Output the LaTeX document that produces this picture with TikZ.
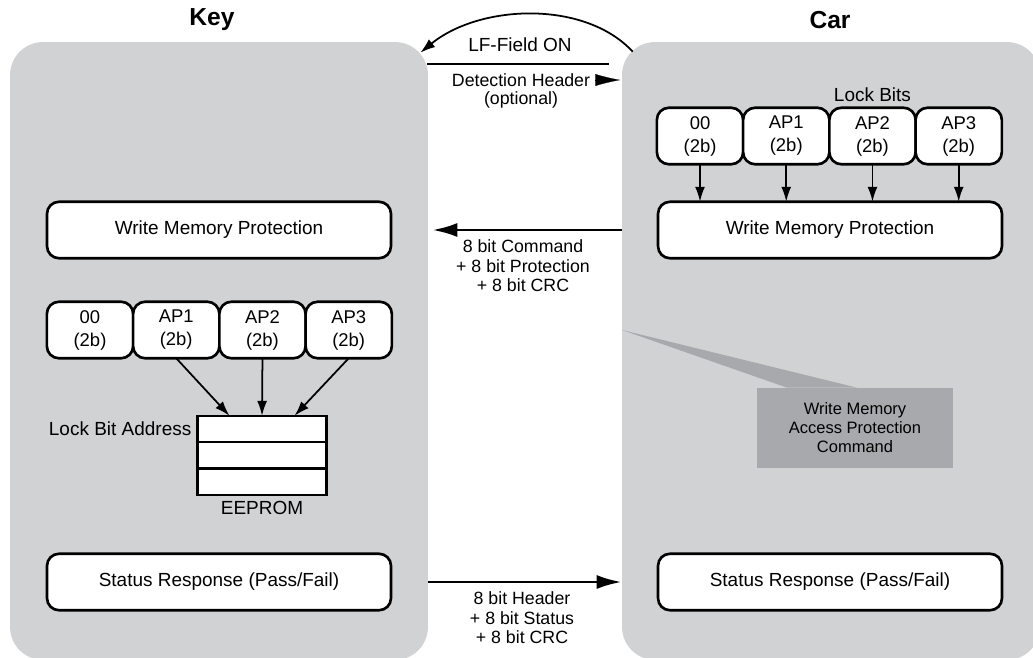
\documentclass[tikz,border=0pt]{standalone}
\usepackage{fontspec}
\setmainfont{Liberation Sans}
\usetikzlibrary{positioning,arrows.meta}
\definecolor{panelgray}{RGB}{209,210,212}
\definecolor{calloutgray}{RGB}{168,169,172}

\begin{document}
\begin{tikzpicture}[x=0.02cm,y=-0.02cm,node distance=0pt,font=\fontsize{10.8}{13}\selectfont]
			\tikzstyle{panel}=[fill=panelgray,rounded corners=0.66cm,minimum width=8.36cm,minimum height=12.36cm,inner sep=0pt]
			\tikzstyle{block}=[draw=black,line width=1.5pt,rounded corners=0.24cm,fill=white,minimum width=6.88cm,minimum height=1.13cm,outer sep=0pt]
			\tikzstyle{bits}=[block,minimum width=1.725cm,align=center,inner sep=1pt,font=\fontsize{10.5}{13.1}\selectfont]
			\tikzstyle{cell}=[draw=black,line width=1.5pt,fill=white,minimum width=2.58cm,minimum height=0.527cm,outer sep=0pt]
			\tikzstyle{callout}=[fill=calloutgray,minimum width=3.92cm,minimum height=1.6cm,align=center,font=\fontsize{9.4}{10.8}\selectfont]
			\tikzstyle{title}=[font=\fontsize{14}{16}\selectfont\bfseries]
			\tikzstyle{msgtext}=[align=center,font=\fontsize{10.1}{11.1}\selectfont]
			\tikzstyle{msg}=[-{Latex[length=0.5cm,width=0.28cm]},line width=1.7pt]
			\tikzstyle{bitarrow}=[-{Latex[length=0.3cm,width=0.2cm]},line width=1pt]
			\useasboundingbox (0,0) rectangle (1033,658);
			% panels
			\node[panel]    (Key) at (219,351)   {};
			\node[panel]    (Car) at (831,351)   {};
			\node[title]    (KeyT) at (212,20)   {Key};
			\node[title]    (CarT) at (830,20)   {Car};
			% key side
			\node[block]    (Kwmp) at (219,230)   {Write Memory Protection};
			\node[bits]     (K0) at (90,330)   {00\\(2b)};
			\node[bits]     (K1)[right=of K0]   {AP1\\(2b)};
			\node[bits]     (K2)[right=of K1]   {AP2\\(2b)};
			\node[bits]     (K3)[right=of K2]   {AP3\\(2b)};
			\node[cell]     (E1) at (262,429)   {};
			\node[cell]     (E2)[below=of E1]   {};
			\node[cell]     (E3)[below=of E2]   {};
			\node           (Lba)[left=of E1]   {Lock Bit Address};
			\node           (Eep)[below=of E3]   {EEPROM};
			\node[block]    (Kst) at (219,582)   {Status Response (Pass/Fail)};
			% car side
			\node[bits]     (C0) at (700,136)   {00\\(2b)};
			\node[bits]     (C1)[right=of C0]   {AP1\\(2b)};
			\node[bits]     (C2)[right=of C1]   {AP2\\(2b)};
			\node[bits]     (C3)[right=of C2]   {AP3\\(2b)};
			\node           (Lb)[above=of C2]   {Lock Bits};
			\node[block]    (Cwmp) at (830,230)   {Write Memory Protection};
			\node[block]    (Cst) at (830,582)   {Status Response (Pass/Fail)};
			\node[callout]  (Cmd) at (855,428)   {Write Memory\\Access Protection\\Command};
			\coordinate     (Tip) at (622,330);
			\fill[calloutgray] (Tip) -- ([xshift=-1.36cm]Cmd.north) -- ([xshift=0.04cm]Cmd.north) -- cycle;
			% messages
			\coordinate     (LFs) at ([shift={(11,10)}]Car.north west);
			\coordinate     (LFe) at ([shift={(-8,11)}]Key.north east);
			\draw[bitarrow] (LFs) .. controls (585,0) and (480,4) .. (LFe);
			\node           (LF) at (520,45)   {LF-Field ON};
			\coordinate     (DHs) at (427,64);
			\coordinate     (DHe) at (609,64);
			\draw[line width=1.2pt] (DHs) -- (DHe);
			\node[msgtext]  (DH) at (521,80)   {Detection Header};
			\node[msgtext]  (Opt) at (521,100)   {(optional)};
			\draw[-{Latex[length=0.5cm,width=0.24cm]},line width=0.1pt] (DH.east) -- ++(24,0);
			\draw[msg,shorten >=0.08cm] (Car.west |- Cwmp.west) -- (Key.east |- Kwmp.east);
			\node[msgtext]  (CmdT) at (523,266)   {8 bit Command\\+ 8 bit Protection\\+ 8 bit CRC};
			\draw[msg] (Key.east |- Kst.east) -- (Car.west |- Cst.west);
			\node[msgtext]  (StT) at (522,618)   {8 bit Header\\+ 8 bit Status\\+ 8 bit CRC};
			% lock bit arrows
			\path[bitarrow]
			(K1.south) edge ([xshift=-0.65cm]E1.north)
			(K2.south) edge (E1.north)
			(K3.south) edge ([xshift=0.65cm]E1.north)
			(C0.south) edge (C0.south |- Cwmp.north)
			(C1.south) edge (C1.south |- Cwmp.north)
			(C2.south) edge (C2.south |- Cwmp.north)
			(C3.south) edge (C3.south |- Cwmp.north);
		\end{tikzpicture}
\end{document}
